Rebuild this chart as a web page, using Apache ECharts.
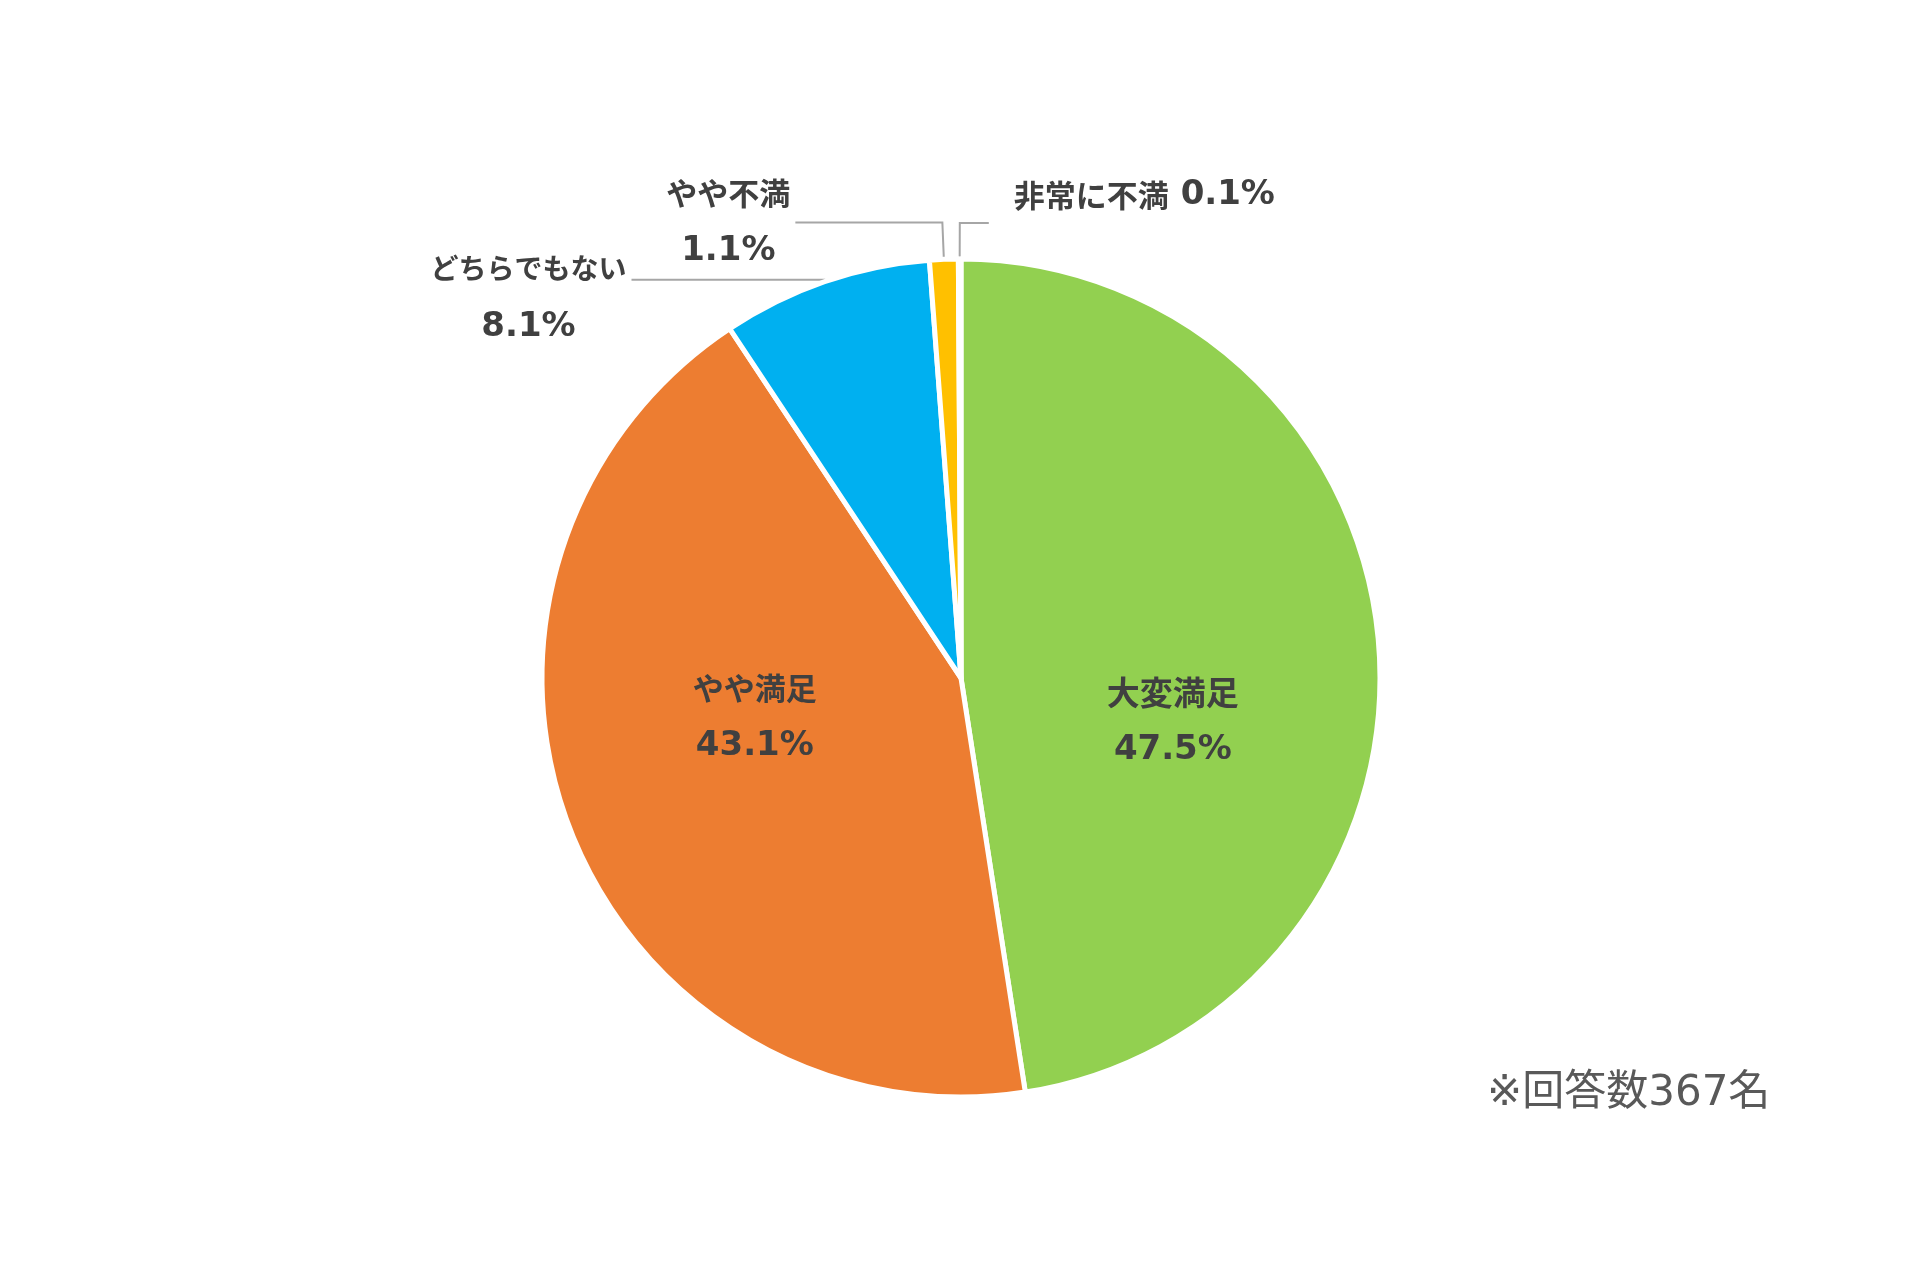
<!DOCTYPE html>
<html><head><meta charset="utf-8">
<script src="https://cdn.jsdelivr.net/npm/echarts@6/dist/echarts.min.js"></script>
<style>html,body{margin:0;padding:0;background:#fff}#c{width:1920px;height:1280px}</style>
</head><body><div id="c"></div>
<script>
const categories = ['大変満足', 'やや満足', 'どちらでもない', 'やや不満', '非常に不満'];
const percentages = [47.5, 43.1, 8.1, 1.1, 0.1];
const sliceColors = ['#92D050', '#ED7D31', '#00B0F0', '#FFC000', '#A5A5A5'];
const respondentNote = '※回答数367名';

const NAME_FONT = '"Noto Sans CJK JP", sans-serif';
const PCT_FONT = '"DejaVu Sans", "Noto Sans CJK JP", sans-serif';
const TEXT_COLOR = '#404040';
const LH = 58;
function makeRich(nameSize) {
  return {
    n: { fontFamily: NAME_FONT, fontWeight: 'bold', fontSize: nameSize, lineHeight: LH, color: TEXT_COLOR, align: 'center' },
    p: { fontFamily: PCT_FONT, fontWeight: 'bold', fontSize: 34, lineHeight: LH, color: TEXT_COLOR, align: 'center' },
    e: { fontSize: 10, lineHeight: LH }
  };
}
const pct = v => v.toFixed(1) + '%';
const twoLine = (name, v) => '{n|' + name + '}\n{p|' + pct(v) + '}';

const itemStyles = [
  { nameSize: 33, label: { position: 'inside', offset: [0, 60] }, labelLine: { show: false } },
  { nameSize: 31, label: { position: 'inside', offset: [-8, -38] }, labelLine: { show: false } },
  { nameSize: 28, label: { padding: [36, 0, 0, 0] }, labelLine: { length: 2, length2: 193 } },
  { nameSize: 31, labelLine: { length: 37, length2: 147 } },
  { nameSize: 31, label: { distanceToLabelLine: 25, padding: [0, 0, 22, 0] }, labelLine: { length: 36, length2: 29 }, singleLine: true }
];

const data = categories.map((name, i) => {
  const s = itemStyles[i];
  const fmt = s.singleLine
    ? '{n|' + name + '}{p| ' + pct(percentages[i]) + '}\n{e| }'
    : twoLine(name, percentages[i]);
  return {
    name: name,
    value: percentages[i],
    itemStyle: { color: sliceColors[i] },
    label: Object.assign({ formatter: fmt, rich: makeRich(s.nameSize) }, s.label || {}),
    labelLine: s.labelLine
  };
});

const chart = echarts.init(document.getElementById('c'), null, { renderer: 'canvas' });
chart.setOption({
  backgroundColor: '#ffffff',
  animation: false,
  title: {
    text: respondentNote,
    left: 1487, top: 1070, padding: 0,
    textStyle: { fontFamily: PCT_FONT, fontSize: 42, lineHeight: 48, fontWeight: 'normal', color: '#595959' }
  },
  series: [{
    type: 'pie',
    center: [961, 678],
    radius: [0, 419],
    startAngle: 90,
    clockwise: true,
    avoidLabelOverlap: false,
    itemStyle: { borderColor: '#ffffff', borderWidth: 5 },
    label: { show: true, position: 'outside', distanceToLabelLine: 5 },
    labelLine: { show: true, smooth: false, lineStyle: { color: '#A6A6A6', width: 2 } },
    emphasis: { disabled: true },
    labelLayout: function (p) {
      if (p.dataIndex !== 4 || !p.labelLinePoints) return {};
      const ax = p.labelLinePoints[0][0];
      const pts = p.labelLinePoints.map(pt => [2 * ax - pt[0], pt[1]]);
      const r = p.labelRect;
      return {
        x: 2 * ax - (r.x + r.width),
        y: r.y,
        align: 'left',
        verticalAlign: 'top',
        labelLinePoints: pts
      };
    },
    data: data
  }]
});
</script>
</body></html>
